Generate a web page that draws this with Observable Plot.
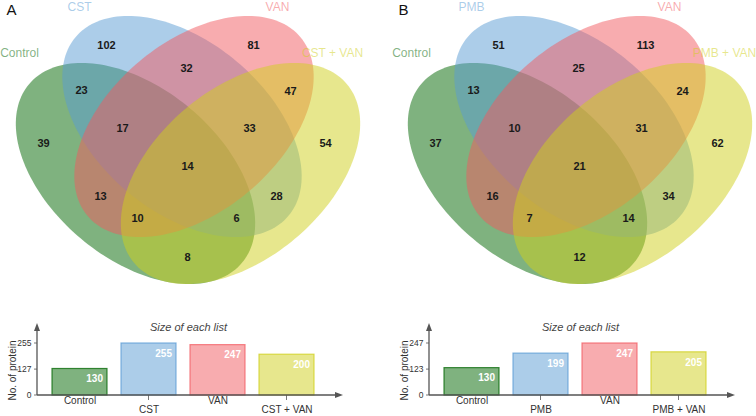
<!DOCTYPE html>
<html><head><meta charset="utf-8">
<script src="https://cdn.jsdelivr.net/npm/d3@7"></script>
<script src="https://cdn.jsdelivr.net/npm/@observablehq/plot@0.6"></script>
<style>
html,body{margin:0;padding:0;background:#fff;overflow:hidden;width:756px;height:416px;}
#root{position:relative;width:756px;height:416px;font-family:"Liberation Sans",Arial,sans-serif;}
.panel{position:absolute;top:0;width:378px;height:416px;}
.venn{position:absolute;left:0;top:0;}
.bars{position:absolute;left:0;top:300px;}
svg{font-family:"Liberation Sans",Arial,sans-serif;}
</style></head><body><div id="root"></div>
<script>
// ---------- data ----------
const panelLetters = ["A", "B"];
const setNamesA = ["Control", "CST", "VAN", "CST + VAN"];
const setNamesB = ["Control", "PMB", "VAN", "PMB + VAN"];
// region membership: Control, 2nd, 3rd, 4th set
const regionKeys = ["1000","0100","0010","0001","1100","0110","0011","1110","0111","1111","1010","0101","1011","1101","1001"];
const regionCountsA = [39, 102, 81, 54, 23, 32, 47, 17, 33, 14, 13, 28, 10, 6, 8];
const regionCountsB = [37, 51, 113, 62, 13, 25, 24, 10, 31, 21, 16, 34, 7, 14, 12];
const listSizesA = [130, 255, 247, 200];
const listSizesB = [130, 199, 247, 205];
const yTicksA = [0, 127, 255];
const yTicksB = [0, 123, 247];
const setColors = ["#006600", "#5a9bd4", "#f15a60", "#cfcf1b"];

// ---------- layout (4-ellipse Venn template, panel units) ----------
const W = 378, VH = 300, BH = 116;
const mid = 187.5;
const ellipseLayout = [
  {cx: mid - 52.5, cy: 173, angle: 40},
  {cx: mid - 6, cy: 126, angle: 40},
  {cx: mid + 6, cy: 126, angle: -40},
  {cx: mid + 52.5, cy: 173, angle: -40}
];
const semiMajor = 139, semiMinor = 85;
const regionPos = {
  "1000": [43, 143], "0100": [106, 45], "0010": [253, 45], "0001": [325, 143],
  "1100": [81, 90], "0110": [186, 68], "0011": [290, 91],
  "1110": [122, 128], "0111": [249, 128], "1111": [187, 166],
  "1010": [100, 196], "0101": [276, 196], "1011": [137, 218], "1101": [236, 218],
  "1001": [187, 257]
};
const setLabelPos = [[19, 53], [79, 7], [277, 7], [332, 53]];

function ellipsePoints(e) {
  const th = e.angle * Math.PI / 180, pts = [];
  for (let i = 0; i < 180; i++) {
    const t = i / 180 * 2 * Math.PI;
    pts.push({
      x: e.cx + semiMajor * Math.cos(t) * Math.cos(th) - semiMinor * Math.sin(t) * Math.sin(th),
      y: e.cy + semiMajor * Math.cos(t) * Math.sin(th) + semiMinor * Math.sin(t) * Math.cos(th)
    });
  }
  return pts;
}

function venn(letter, names, counts) {
  const regions = regionKeys.map((k, i) => ({key: k, n: counts[i], x: regionPos[k][0], y: regionPos[k][1]}));
  const labels = names.map((n, i) => ({name: n, color: setColors[i], x: setLabelPos[i][0], y: setLabelPos[i][1]}));
  return Plot.plot({
    width: W, height: VH, margin: 0,
    x: {domain: [0, W], range: [0, W], axis: null},
    y: {domain: [0, VH], range: [0, VH], axis: null},
    marks: [
      ...ellipseLayout.map((e, i) => Plot.line(ellipsePoints(e), {x: "x", y: "y", curve: "linear-closed", fill: setColors[i], fillOpacity: 0.5, stroke: "none"})),
      Plot.text(regions, {x: "x", y: "y", text: "n", fontSize: 11, fontWeight: "bold", fill: "#1a1a1a"}),
      Plot.text(labels, {x: "x", y: "y", text: "name", fill: "color", fillOpacity: 0.5, fontSize: 12}),
      Plot.text([letter], {x: () => 11, y: () => 10, text: d => d, fontSize: 15, fill: "#111"})
    ]
  });
}

function bars(names, sizes, ticks) {
  const data = names.map((n, i) => ({name: n, value: sizes[i], color: setColors[i], i}));
  const yMax = d3.max(sizes);
  const axes = (index, scales, values, dims) => {
    const g = d3.create("svg:g").attr("stroke", "#555").attr("fill", "#555");
    const x0 = dims.marginLeft, y0 = scales.y(0), yTop = dims.marginTop, xEnd = dims.width - dims.marginRight;
    g.append("line").attr("x1", x0).attr("x2", x0).attr("y1", y0).attr("y2", yTop + 4).attr("stroke-width", 1.3);
    g.append("line").attr("x1", x0).attr("x2", xEnd - 4).attr("y1", y0).attr("y2", y0).attr("stroke-width", 1.3);
    g.append("path").attr("stroke", "none").attr("d", `M${x0},${yTop}L${x0 - 3},${yTop + 8}L${x0 + 3},${yTop + 8}Z`);
    g.append("path").attr("stroke", "none").attr("d", `M${xEnd},${y0}L${xEnd - 8},${y0 - 3}L${xEnd - 8},${y0 + 3}Z`);
    for (const t of ticks) g.append("line").attr("x1", x0 - 3).attr("x2", x0).attr("y1", scales.y(t)).attr("y2", scales.y(t)).attr("stroke-width", 0.8);
    const bw = scales.x.bandwidth ? scales.x.bandwidth() : 0;
    names.forEach((n, i) => {
      if (i % 2 === 1) {
        const cx = scales.x(n) + bw / 2;
        g.append("line").attr("x1", cx).attr("x2", cx).attr("y1", y0).attr("y2", y0 + 5).attr("stroke-width", 0.8);
      }
    });
    return g.node();
  };
  return Plot.plot({
    width: W, height: BH, marginTop: 23, marginLeft: 37, marginRight: 35, marginBottom: 21,
    x: {type: "band", domain: names, range: [52, 315], paddingInner: 0.2, paddingOuter: 0, axis: null},
    y: {domain: [0, yMax], range: [95, 43], axis: null},
    color: {type: "identity"},
    marks: [
      Plot.barY(data, {x: "name", y: "value", fill: "color", fillOpacity: 0.5, stroke: "color", strokeOpacity: 0.75, strokeWidth: 1.2}),
      axes,
      Plot.text(data, {x: "name", y: "value", text: d => String(d.value), dx: 23, dy: 10, textAnchor: "end", fill: "white", fontWeight: "bold", fontSize: 10}),
      Plot.text(ticks, {y: d => d, frameAnchor: "left", dx: -6, textAnchor: "end", text: d => String(d), fontSize: 8.5, fill: "#333"}),
      Plot.text(data.filter(d => d.i % 2 === 0), {x: "name", frameAnchor: "bottom", dy: 8, text: "name", fontSize: 10, fill: "#333"}),
      Plot.text(data.filter(d => d.i % 2 === 1), {x: "name", frameAnchor: "bottom", dy: 17, text: "name", fontSize: 10, fill: "#333"}),
      Plot.text(["Size of each list"], {frameAnchor: "top", dx: -2, text: d => d, fontStyle: "italic", fontSize: 11, fill: "#444"}),
      Plot.text(["No. of protein"], {y: () => yMax * 0.48, frameAnchor: "left", textAnchor: "middle", rotate: -90, dx: -25, text: d => d, fontSize: 10, fill: "#333"})
    ]
  });
}

const root = document.getElementById("root");
const panels = [
  {letter: panelLetters[0], names: setNamesA, counts: regionCountsA, sizes: listSizesA, ticks: yTicksA, left: 0},
  {letter: panelLetters[1], names: setNamesB, counts: regionCountsB, sizes: listSizesB, ticks: yTicksB, left: 392}
];
for (const p of panels) {
  const div = document.createElement("div");
  div.className = "panel";
  div.style.left = p.left + "px";
  const v = venn(p.letter, p.names, p.counts);
  v.classList.add("venn");
  const b = bars(p.names, p.sizes, p.ticks);
  b.classList.add("bars");
  div.appendChild(v);
  div.appendChild(b);
  root.appendChild(div);
}
</script></body></html>
